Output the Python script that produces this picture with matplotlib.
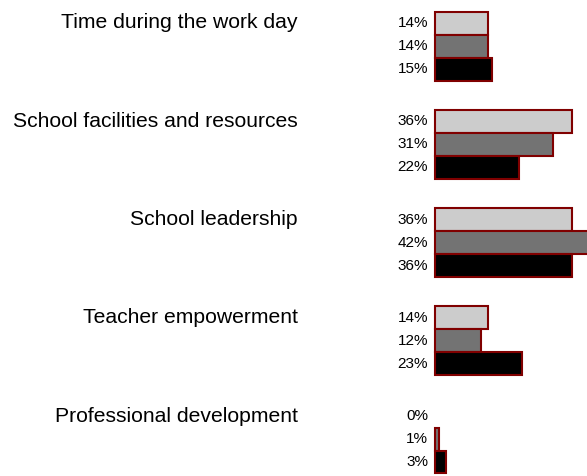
import numpy as np
import matplotlib
matplotlib.use("Agg")
import matplotlib.pyplot as plt
from matplotlib.transforms import blended_transform_factory

# ----------- Data -----------
categories = [
    "Time during the work day",
    "School facilities and resources",
    "School leadership",
    "Teacher empowerment",
    "Professional development",
]
series_a = [14, 36, 36, 14, 0]   # light grey bars
series_b = [14, 31, 42, 12, 1]   # mid grey bars
series_c = [15, 22, 36, 23, 3]   # black bars

colors = ["#cccccc", "#737373", "#000000"]
edge = "#800000"

# ----------- Figure / axes -----------
W, H, DPI = 587, 476, 100
fig = plt.figure(figsize=(W / DPI, H / DPI), dpi=DPI)
plt.rcParams["font.family"] = ["Liberation Sans", "DejaVu Sans"]

ax = fig.add_axes([435 / W, 0, 1 - 435 / W, 1])
ax.set_xlim(0, 40)
# group centres sit ~98 px apart, first one 46 px from the top
spacing = 98.25
ax.set_ylim(4 + (H - 439) / spacing, -46 / spacing)
ax.axis("off")

bar_h = 23 / spacing
y = np.arange(len(categories))

for j, vals in enumerate([series_a, series_b, series_c]):
    pos = y + (j - 1) * bar_h
    lw = [0 if v == 0 else 1.5 for v in vals]
    ax.barh(pos, vals, height=bar_h, color=colors[j], edgecolor=edge,
            linewidth=lw, clip_on=False)
    for p, v in zip(pos, vals):
        ax.annotate(f"{v}%", xy=(0, p), xytext=(-5, 0), textcoords="offset points",
                    ha="right", va="center", fontsize=11, color="black")

# category names, lined up with the first bar of each group
tr = blended_transform_factory(fig.transFigure, ax.transData)
for i, name in enumerate(categories):
    ax.text(298 / W, y[i] - bar_h, name, transform=tr, ha="right", va="center",
            fontsize=15.2, color="black")

fig.savefig("out.png", dpi=DPI)
